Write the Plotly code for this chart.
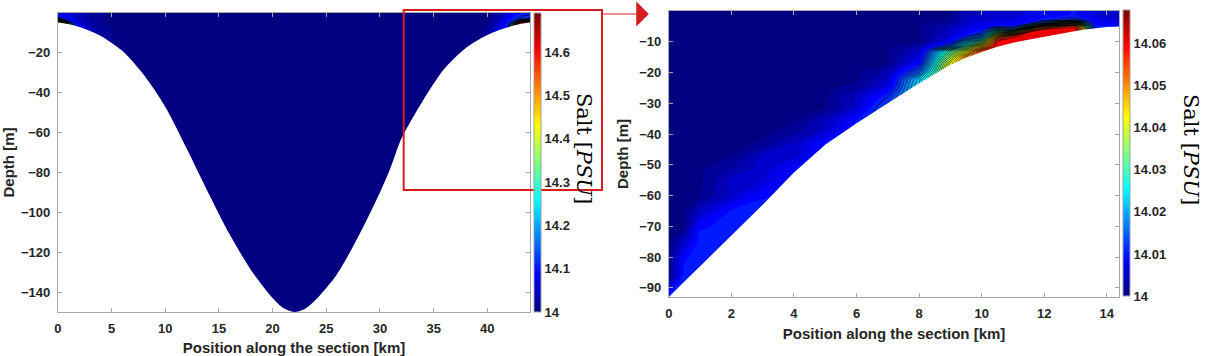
import plotly.graph_objects as go

W, H = 1217, 356

# ---------------- Left panel: full section ----------------
left_bathy_km = [0, 2, 4, 6, 8, 10, 12, 14, 16, 18, 20, 21, 22, 23, 24, 26, 28, 30, 31, 32, 34, 36, 38, 40, 42, 44]
left_bathy_depth_m = [4.8, 7, 11.5, 19, 31, 47, 68, 90, 111, 129, 143, 148, 150, 148.5, 144, 131, 112, 90, 77.5, 63, 44, 28, 17.5, 11, 7, 4.8]

left_station_km = [0, 0.5, 1, 1.5, 2, 3, 4, 6, 22, 38, 40, 41, 42, 42.5, 43, 43.5, 44]
left_level_m = [0, 1, 2, 3, 4, 5, 6, 7, 8, 10, 150]
# salinity excess above 14 PSU (1e-3 PSU); one profile per station, surface -> deep
left_salt_excess = [
    [60, 70, 90, 200, 520, 660, 660, 660, 660, 660, 660],
    [60, 65, 80, 120, 330, 600, 620, 620, 620, 620, 620],
    [55, 60, 65, 70, 90, 200, 260, 260, 260, 260, 260],
    [45, 50, 55, 60, 70, 100, 150, 150, 150, 150, 150],
    [35, 35, 38, 40, 45, 55, 70, 80, 80, 80, 80],
    [25, 25, 25, 25, 25, 28, 30, 35, 40, 40, 40],
    [10, 10, 10, 10, 10, 10, 12, 14, 16, 18, 18],
    [2, 2, 2, 2, 2, 2, 2, 2, 2, 2, 2],
    [2, 2, 2, 2, 2, 2, 2, 2, 2, 2, 2],
    [2, 2, 2, 2, 2, 2, 2, 2, 2, 2, 2],
    [5, 5, 5, 5, 5, 5, 6, 8, 10, 10, 10],
    [20, 22, 25, 30, 35, 45, 55, 60, 60, 60, 60],
    [60, 70, 80, 90, 100, 105, 110, 110, 110, 110, 110],
    [80, 90, 100, 110, 120, 200, 330, 330, 330, 330, 330],
    [90, 100, 110, 120, 250, 600, 650, 650, 650, 650, 650],
    [100, 110, 115, 130, 400, 680, 690, 690, 690, 690, 690],
    [100, 110, 120, 150, 480, 680, 690, 690, 690, 690, 690],
]
left_x_ticks = [0, 5, 10, 15, 20, 25, 30, 35, 40]
left_y_ticks = [-140, -120, -100, -80, -60, -40, -20]
left_cbar_ticks = [14.0, 14.1, 14.2, 14.3, 14.4, 14.5, 14.6]
left_cbar_text = ["14", "14.1", "14.2", "14.3", "14.4", "14.5", "14.6"]
left_salt_range = [14.0, 14.69]

# ---------------- Right panel: zoom on the eastern slope ----------------
right_bathy_km = [0, 0.5, 1, 2, 3, 4, 5, 6, 7, 8, 9, 9.5, 10, 10.5, 11, 11.5, 12, 12.5, 13, 13.3, 13.6, 14, 14.4]
right_bathy_depth_m = [93, 88, 83, 73, 63, 52.5, 43.5, 36.5, 30, 23.5, 17.5, 15.2, 13.3, 11.6, 10.3, 9.3, 8.3, 7.4, 6.5, 6.0, 5.6, 5.2, 5.0]

right_station_km = right_bathy_km
right_level_m = [0, 1, 2, 3, 4, 5, 6, 7, 8, 9, 10, 11.5, 13, 15, 17, 19.5, 22, 25, 28, 31, 35, 39, 43, 47, 51, 55, 60, 65, 70, 75, 80, 86, 93]
right_salt_excess = [
    [0.5, 0.5, 0.5, 0.5, 0.5, 0.5, 0.5, 0.5, 0.5, 0.5, 0.5, 0.5, 0.5, 0.5, 0.5, 0.5, 0.5, 0.5, 0.5, 0.5, 0.5, 0.5, 0.5, 0.5, 0.5, 0.5, 0.5, 0.5, 0.5, 0.5, 0.5, 0.8, 10],
    [0.5, 0.5, 0.5, 0.5, 0.5, 0.5, 0.5, 0.5, 0.5, 0.5, 0.5, 0.5, 0.5, 0.5, 0.5, 0.5, 0.5, 0.5, 0.5, 0.5, 0.5, 0.5, 0.5, 0.5, 0.5, 0.5, 0.5, 0.5, 0.6, 4.5, 8.8, 10.5, 10.5],
    [0.5, 0.5, 0.5, 0.5, 0.5, 0.5, 0.5, 0.5, 0.5, 0.5, 0.5, 0.5, 0.5, 0.5, 0.5, 0.5, 0.5, 0.5, 0.5, 0.5, 0.5, 0.5, 0.5, 0.5, 0.5, 0.5, 0.8, 4.5, 8.8, 10.5, 11, 11, 11],
    [0.5, 0.5, 0.5, 0.5, 0.5, 0.5, 0.5, 0.5, 0.5, 0.5, 0.5, 0.5, 0.5, 0.5, 0.5, 0.5, 0.5, 0.5, 0.5, 0.5, 0.5, 0.5, 0.5, 0.7, 2.5, 4.5, 5, 9.5, 10.5, 11, 11, 11, 11],
    [0.5, 0.5, 0.5, 0.5, 0.5, 0.5, 0.5, 0.5, 0.5, 0.5, 0.5, 0.5, 0.5, 0.5, 0.5, 0.5, 0.5, 0.5, 0.5, 0.5, 0.5, 0.5, 1, 4.5, 5, 5.5, 9, 10.5, 10.5, 10.5, 10.5, 10.5, 10.5],
    [0.5, 0.5, 0.5, 0.5, 0.5, 0.5, 0.5, 0.5, 0.5, 0.5, 0.5, 0.5, 0.5, 0.5, 0.5, 0.5, 0.5, 0.5, 0.5, 0.5, 0.5, 1.5, 4.5, 5, 8.5, 10, 10, 10, 10, 10, 10, 10, 10],
    [0.5, 0.5, 0.5, 0.5, 0.5, 0.5, 0.5, 0.5, 0.5, 0.5, 0.5, 0.5, 0.5, 0.5, 0.5, 0.5, 0.5, 0.5, 0.5, 0.5, 3.5, 5, 9.5, 10, 10, 10, 10, 10, 10, 10, 10, 10, 10],
    [0.5, 0.5, 0.5, 0.5, 0.5, 0.5, 0.5, 0.5, 0.5, 0.5, 0.5, 0.5, 0.5, 0.5, 0.5, 0.5, 0.5, 1.5, 4.5, 5, 9, 11, 11, 11, 11, 11, 11, 11, 11, 11, 11, 11, 11],
    [0.5, 0.5, 0.5, 0.5, 0.5, 0.5, 0.5, 0.5, 0.5, 0.5, 0.5, 0.5, 0.5, 0.5, 0.5, 3, 4.5, 7, 11, 14, 14, 14, 14, 14, 14, 14, 14, 14, 14, 14, 14, 14, 14],
    [0.5, 0.5, 0.5, 0.5, 0.5, 0.5, 0.5, 0.5, 0.5, 0.5, 0.5, 2.5, 4.5, 6, 8.5, 14, 22, 24, 24, 24, 24, 24, 24, 24, 24, 24, 24, 24, 24, 24, 24, 24, 24],
    [0.5, 0.5, 0.6, 1.2, 2.5, 3.5, 4.5, 5, 5.5, 6.5, 8, 16, 30, 37, 42, 44, 44, 44, 44, 44, 44, 44, 44, 44, 44, 44, 44, 44, 44, 44, 44, 44, 44],
    [3, 3.5, 4, 4.5, 5, 6, 7, 8, 10, 14, 21, 31, 41, 50, 52, 52, 52, 52, 52, 52, 52, 52, 52, 52, 52, 52, 52, 52, 52, 52, 52, 52, 52],
    [4, 4.5, 5, 5.5, 6.5, 7.5, 9, 11, 16, 24, 33, 46, 56, 58, 58, 58, 58, 58, 58, 58, 58, 58, 58, 58, 58, 58, 58, 58, 58, 58, 58, 58, 58],
    [4.5, 4.5, 5, 6, 7, 10, 20, 32, 44, 54, 59, 61, 61, 61, 61, 61, 61, 61, 61, 61, 61, 61, 61, 61, 61, 61, 61, 61, 61, 61, 61, 61, 61],
    [5, 5, 5.5, 6.5, 8, 10, 18, 38, 56, 60.5, 61, 61, 61, 61, 61, 61, 61, 61, 61, 61, 61, 61, 61, 61, 61, 61, 61, 61, 61, 61, 61, 61, 61],
    [6, 6.5, 7, 8, 10, 22, 48, 59, 61, 61.5, 61.5, 61.5, 61.5, 61.5, 61.5, 61.5, 61.5, 61.5, 61.5, 61.5, 61.5, 61.5, 61.5, 61.5, 61.5, 61.5, 61.5, 61.5, 61.5, 61.5, 61.5, 61.5, 61.5],
    [8, 8.5, 9, 10.5, 20, 48, 59, 61, 61.5, 61.5, 61.5, 61.5, 61.5, 61.5, 61.5, 61.5, 61.5, 61.5, 61.5, 61.5, 61.5, 61.5, 61.5, 61.5, 61.5, 61.5, 61.5, 61.5, 61.5, 61.5, 61.5, 61.5, 61.5],
    [9, 9, 9.5, 12, 32, 55, 60.5, 61.5, 61.5, 61.5, 61.5, 61.5, 61.5, 61.5, 61.5, 61.5, 61.5, 61.5, 61.5, 61.5, 61.5, 61.5, 61.5, 61.5, 61.5, 61.5, 61.5, 61.5, 61.5, 61.5, 61.5, 61.5, 61.5],
    [9.5, 9.5, 10, 14, 40, 57, 60, 60.5, 60.5, 60.5, 60.5, 60.5, 60.5, 60.5, 60.5, 60.5, 60.5, 60.5, 60.5, 60.5, 60.5, 60.5, 60.5, 60.5, 60.5, 60.5, 60.5, 60.5, 60.5, 60.5, 60.5, 60.5, 60.5],
    [8, 8, 8.5, 11, 20, 35, 42, 42, 42, 42, 42, 42, 42, 42, 42, 42, 42, 42, 42, 42, 42, 42, 42, 42, 42, 42, 42, 42, 42, 42, 42, 42, 42],
    [6, 6, 6.5, 7.5, 9, 10, 10, 10, 10, 10, 10, 10, 10, 10, 10, 10, 10, 10, 10, 10, 10, 10, 10, 10, 10, 10, 10, 10, 10, 10, 10, 10, 10],
    [5, 5, 5.5, 6.5, 8, 9.5, 9.5, 9.5, 9.5, 9.5, 9.5, 9.5, 9.5, 9.5, 9.5, 9.5, 9.5, 9.5, 9.5, 9.5, 9.5, 9.5, 9.5, 9.5, 9.5, 9.5, 9.5, 9.5, 9.5, 9.5, 9.5, 9.5, 9.5],
    [4.5, 4.5, 5, 6, 7.5, 9, 9, 9, 9, 9, 9, 9, 9, 9, 9, 9, 9, 9, 9, 9, 9, 9, 9, 9, 9, 9, 9, 9, 9, 9, 9, 9, 9],
]
right_x_ticks = [0, 2, 4, 6, 8, 10, 12, 14]
right_y_ticks = [-90, -80, -70, -60, -50, -40, -30, -20, -10]
right_cbar_ticks = [14.0, 14.01, 14.02, 14.03, 14.04, 14.05, 14.06]
right_cbar_text = ["14", "14.01", "14.02", "14.03", "14.04", "14.05", "14.06"]
right_salt_range = [14.0, 14.068]

N_LEVELS = 40
FIRST_LINE_LEVEL = 6    # contour lines are drawn from this colour step ...
LAST_LINE_LEVEL = 34    # ... up to this one

JET = [[0.0, "rgb(0,0,128)"], [0.125, "rgb(0,0,255)"], [0.375, "rgb(0,255,255)"],
       [0.625, "rgb(255,255,0)"], [0.875, "rgb(255,0,0)"], [1.0, "rgb(128,0,0)"]]

TICKFONT = dict(family="Liberation Sans, Arial", size=13, color="#262626", weight="bold")
TITLEFONT = dict(family="Liberation Sans, Arial", size=15, color="#262626", weight="bold")
RED = "rgb(214,30,30)"


def px(v):
    return v / W


def py(v):
    return 1 - v / H


def salinity(rows):
    return [[14 + v / 1000 for v in row] for row in rows]


def contour_fill(stations, levels, rows, srange, xa, ya):
    cs = (srange[1] - srange[0]) / N_LEVELS
    return go.Contour(
        x=stations, y=[-l for l in levels], z=salinity(rows), transpose=True,
        xaxis=xa, yaxis=ya, colorscale=JET, showscale=False,
        contours=dict(coloring="fill", start=srange[0] + cs / 2, end=srange[1] - cs / 2 + 1e-9,
                      size=cs, showlines=False),
        line=dict(width=0, smoothing=1),
        hoverinfo="skip",
    )


def contour_lines(stations, levels, rows, srange, xa, ya):
    cs = (srange[1] - srange[0]) / N_LEVELS
    return go.Contour(
        x=stations, y=[-l for l in levels], z=salinity(rows), transpose=True,
        xaxis=xa, yaxis=ya, showscale=False,
        contours=dict(coloring="none", start=srange[0] + cs / 2 + FIRST_LINE_LEVEL * cs,
                      end=srange[0] + cs / 2 + LAST_LINE_LEVEL * cs + 1e-9, size=cs, showlines=True),
        line=dict(color="black", width=0.55, smoothing=1),
        hoverinfo="skip",
    )


def colour_key(stations, levels, rows, srange, ticks, ticktext, xa, ya, cb_x, cb_top, cb_bot):
    # transparent copy of the field that only carries the continuous colour bar
    return go.Heatmap(
        x=stations, y=[-l for l in levels], z=salinity(rows), transpose=True,
        xaxis=xa, yaxis=ya, colorscale=JET, zmin=srange[0], zmax=srange[1], opacity=0,
        hoverinfo="skip",
        colorbar=dict(x=px(cb_x), xanchor="left", xref="paper", thickness=7, thicknessmode="pixels",
                      len=cb_bot - cb_top, lenmode="pixels", y=py((cb_top + cb_bot) / 2), yanchor="middle",
                      yref="paper", xpad=0, ypad=0, outlinewidth=1, outlinecolor="#a0a0a0",
                      tickvals=ticks, ticktext=ticktext, ticks="", tickfont=TICKFONT),
    )


def mask(bx, bd, xa, ya, deep, shape):
    xs = [bx[0] - 5] + list(bx) + [bx[-1] + 5, bx[-1] + 5, bx[0] - 5]
    ys = [-bd[0]] + [-d for d in bd] + [-bd[-1], -deep, -deep]
    return go.Scatter(x=xs, y=ys, xaxis=xa, yaxis=ya, mode="lines", fill="toself",
                      fillcolor="white", line=dict(width=0, color="white", shape=shape, smoothing=0.8),
                      hoverinfo="skip", showlegend=False)


fig = go.Figure()
fig.add_trace(colour_key(left_station_km, left_level_m, left_salt_excess, left_salt_range,
                         left_cbar_ticks, left_cbar_text, "x", "y", 532, 13, 312))
fig.add_trace(contour_fill(left_station_km, left_level_m, left_salt_excess, left_salt_range, "x", "y"))
fig.add_trace(contour_lines(left_station_km, left_level_m, left_salt_excess, left_salt_range, "x", "y"))
fig.add_trace(mask(left_bathy_km, left_bathy_depth_m, "x", "y", 400, "spline"))
fig.add_trace(colour_key(right_station_km, right_level_m, right_salt_excess, right_salt_range,
                         right_cbar_ticks, right_cbar_text, "x2", "y2", 1123, 10, 296))
fig.add_trace(contour_fill(right_station_km, right_level_m, right_salt_excess, right_salt_range, "x2", "y2"))
fig.add_trace(contour_lines(right_station_km, right_level_m, right_salt_excess, right_salt_range, "x2", "y2"))
fig.add_trace(mask(right_bathy_km, right_bathy_depth_m, "x2", "y2", 300, "linear"))

common_axis = dict(showgrid=False, zeroline=False, showline=True, linecolor="#a8a8a8", linewidth=1,
                   mirror="ticks", ticks="inside", ticklen=4, tickcolor="#a8a8a8", tickfont=TICKFONT,
                   ticklabelstandoff=4)

fig.update_layout(
    width=W, height=H, margin=dict(l=0, r=0, t=0, b=0),
    paper_bgcolor="white", plot_bgcolor="white", showlegend=False,
    xaxis=dict(domain=[px(54), px(528)], range=[0, 44], tickvals=left_x_ticks, anchor="y",
               title=dict(text="Position along the section [km]", font=TITLEFONT, standoff=8), **common_axis),
    yaxis=dict(domain=[py(312), py(13)], range=[-150, 0], tickvals=left_y_ticks, anchor="x",
               title=dict(text="Depth [m]", font=TITLEFONT, standoff=6), **common_axis),
    xaxis2=dict(domain=[px(667), px(1119)], range=[0, 14.4], tickvals=right_x_ticks, anchor="y2",
                title=dict(text="Position along the section [km]", font=TITLEFONT, standoff=8), **common_axis),
    yaxis2=dict(domain=[py(297), py(11)], range=[-93, 0], tickvals=right_y_ticks, anchor="x2",
                title=dict(text="Depth [m]", font=TITLEFONT, standoff=6), **common_axis),
)

for cx, cy in [(582, 148), (1191, 149)]:
    fig.add_annotation(text="Salt [<i>PSU</i>]", x=px(cx), y=py(cy), xref="paper", yref="paper",
                       showarrow=False, textangle=90, xanchor="center", yanchor="middle",
                       font=dict(family="DejaVu Serif", size=21, color="black"))

fig.add_shape(type="rect", xref="paper", yref="paper", x0=px(401), x1=px(600), y0=py(190), y1=py(10),
              line=dict(color=RED, width=2))
fig.add_annotation(text="", x=px(647), y=py(14), xref="paper", yref="paper", ax=-47, ay=0,
                   showarrow=True, arrowhead=1, arrowsize=3.5, arrowwidth=1.2, arrowcolor=RED, standoff=0)

fig.write_html("out.html", config={"displayModeBar": False},
               post_script="document.body.style.margin='0px';document.body.style.overflow='hidden';")
